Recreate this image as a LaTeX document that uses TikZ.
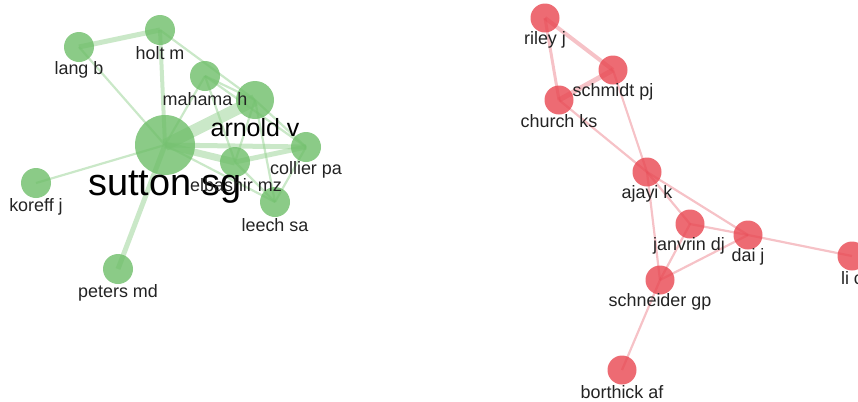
\documentclass[tikz,border=0pt]{standalone}
\usepackage{fontspec}
\setmainfont{Liberation Sans}
\begin{document}
\begin{tikzpicture}[x=1bp,y=-1bp,
  gnode/.style={circle,draw=none,fill={rgb,255:red,110;green,190;blue,105},fill opacity=0.8,inner sep=0pt},
  rnode/.style={circle,draw=none,fill={rgb,255:red,232;green,70;blue,80},fill opacity=0.8,inner sep=0pt},
  gedge/.style={draw={rgb,255:red,150;green,210;blue,145},draw opacity=0.5,line width=2.2bp},
  redge/.style={draw={rgb,255:red,235;green,120;blue,130},draw opacity=0.45,line width=2.2bp},
  lab/.style={text={rgb,255:red,35;green,35;blue,35},inner sep=0pt,font=\fontsize{18}{20}\selectfont},
]
\useasboundingbox (0,0) rectangle (858,401);
\clip (0,0) rectangle (858,401);
% green coordinates
\coordinate (sutton) at (165,145);
\coordinate (arnold) at (255,100);
\coordinate (holt) at (160,30);
\coordinate (lang) at (79,47);
\coordinate (mahama) at (205,76);
\coordinate (collier) at (306,147);
\coordinate (elbashir) at (235,162);
\coordinate (leech) at (275,202);
\coordinate (koreff) at (36,183);
\coordinate (peters) at (118,269);
% red coordinates
\coordinate (riley) at (545,18);
\coordinate (schmidt) at (613,70);
\coordinate (church) at (559,100);
\coordinate (ajayi) at (647,172);
\coordinate (janvrin) at (690,224);
\coordinate (dai) at (748,235);
\coordinate (li) at (852,256);
\coordinate (schneider) at (660,280);
\coordinate (borthick) at (622,370);
% green edges
\draw[gedge,line width=5bp] (lang) -- (holt);
\draw[gedge] (lang) -- (sutton);
\draw[gedge,line width=4bp] (holt) -- (sutton);
\draw[gedge] (holt) -- (arnold);
\draw[gedge] (mahama) -- (sutton);
\draw[gedge] (mahama) -- (arnold);
\draw[gedge] (mahama) -- (elbashir);
\draw[gedge] (mahama) -- (collier);
\draw[gedge,line width=12bp] (sutton) -- (arnold);
\draw[gedge,line width=5bp] (sutton) -- (collier);
\draw[gedge,line width=7bp] (sutton) -- (elbashir);
\draw[gedge] (sutton) -- (leech);
\draw[gedge] (sutton) -- (koreff);
\draw[gedge,line width=5bp] (sutton) -- (peters);
\draw[gedge] (arnold) -- (elbashir);
\draw[gedge] (arnold) -- (collier);
\draw[gedge] (arnold) -- (leech);
\draw[gedge,line width=5bp] (elbashir) -- (collier);
\draw[gedge] (elbashir) -- (leech);
\draw[gedge] (collier) -- (leech);
% red edges
\draw[redge,line width=4bp] (riley) -- (schmidt);
\draw[redge,line width=3bp] (riley) -- (church);
\draw[redge,line width=5bp] (schmidt) -- (church);
\draw[redge] (schmidt) -- (ajayi);
\draw[redge] (church) -- (ajayi);
\draw[redge] (ajayi) -- (janvrin);
\draw[redge] (ajayi) -- (dai);
\draw[redge] (ajayi) -- (schneider);
\draw[redge] (janvrin) -- (dai);
\draw[redge] (janvrin) -- (schneider);
\draw[redge] (dai) -- (schneider);
\draw[redge] (dai) -- (li);
\draw[redge] (schneider) -- (borthick);
% green nodes
\node[gnode,minimum size=60bp] (nsutton) at (sutton) {};
\node[gnode,minimum size=38bp] (narnold) at (arnold) {};
\foreach \n in {holt,lang,mahama,collier,elbashir,leech,koreff,peters}
  \node[gnode,minimum size=30bp] (n\n) at (\n) {};
% red nodes
\foreach \n in {riley,schmidt,church,ajayi,janvrin,dai,li,schneider,borthick}
  \node[rnode,minimum size=29bp] (n\n) at (\n) {};
% green labels
\node[lab,font=\fontsize{38}{40}\selectfont,text=black] (lsutton) at (165,187) {sutton sg};
\node[lab,font=\fontsize{25}{27}\selectfont,text=black] (larnold) at (255,128) {arnold v};
\node[lab] (lholt) at (160,53) {holt m};
\node[lab] (llang) at (79,70) {lang b};
\node[lab] (lmahama) at (205,99) {mahama h};
\node[lab] (lcollier) at (306,170) {collier pa};
\node[lab] (lelbashir) at (236,185) {elbashir mz};
\node[lab] (lleech) at (275,225) {leech sa};
\node[lab] (lkoreff) at (36,207) {koreff j};
\node[lab] (lpeters) at (118,293) {peters md};
% red labels
\node[lab] (lriley) at (545,40) {riley j};
\node[lab] (lschmidt) at (613,92) {schmidt pj};
\node[lab] (lchurch) at (559,121) {church ks};
\node[lab] (lajayi) at (647,194) {ajayi k};
\node[lab] (ljanvrin) at (689,246) {janvrin dj};
\node[lab] (ldai) at (748,257) {dai j};
\node[lab] (lli) at (852,278) {li c};
\node[lab] (lschneider) at (660,302) {schneider gp};
\node[lab] (lborthick) at (622,392) {borthick af};
\end{tikzpicture}
\end{document}
